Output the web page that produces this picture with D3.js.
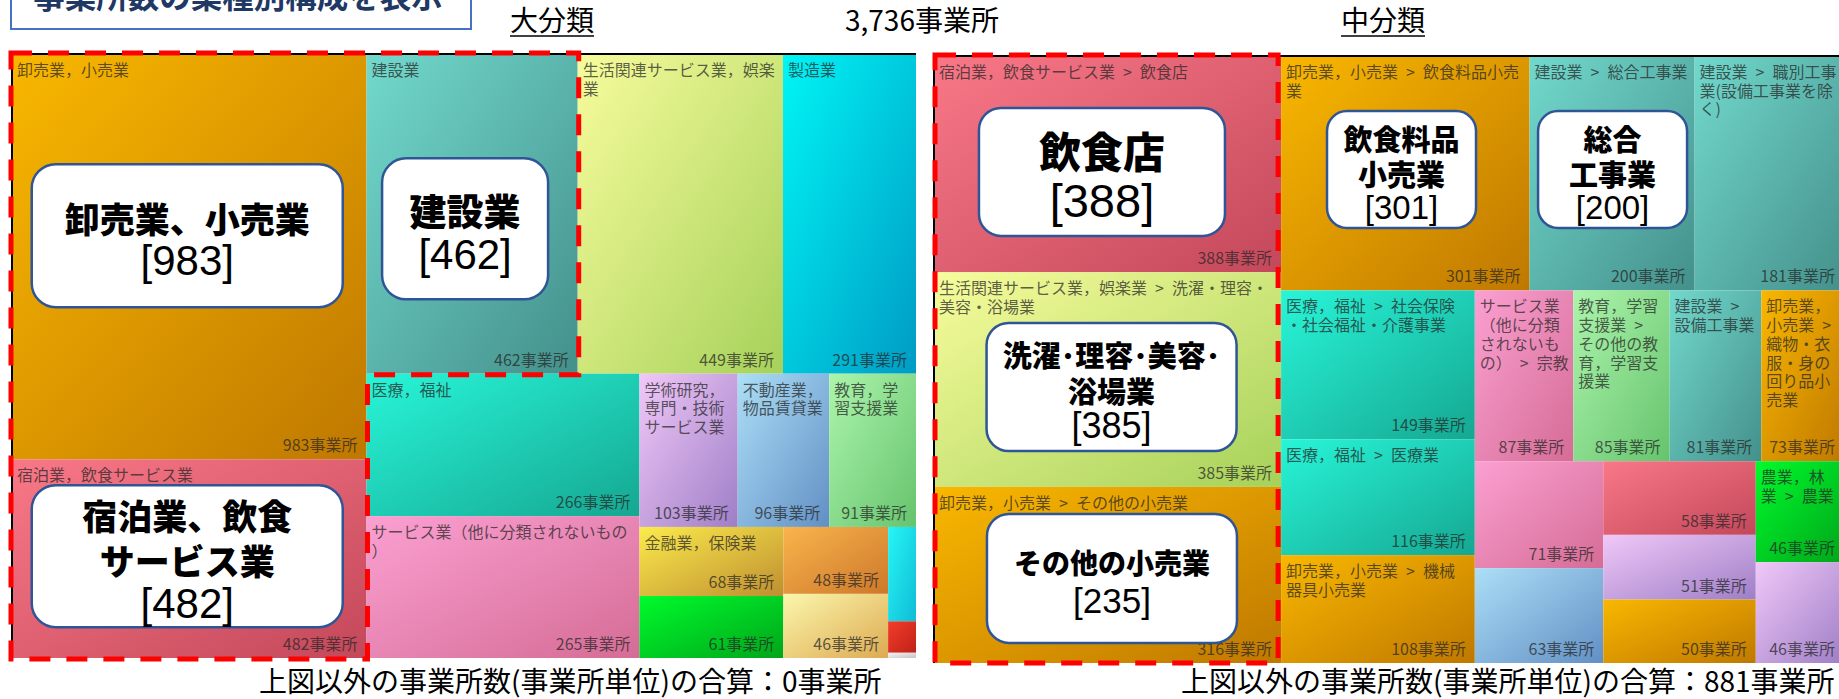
<!DOCTYPE html>
<html>
<head>
<meta charset="utf-8">
<script src="https://cdn.jsdelivr.net/npm/d3@7"></script>
<style>
  body { margin: 0; background: #fff; }
  svg { display: block; }
  text { font-family: "Noto Sans CJK JP", "Noto Sans", sans-serif; }
  .lbl, .val { font-size: 16px; fill: #262626; fill-opacity: 0.74; }
</style>
</head>
<body>
<div id="chart"></div>
<script>
var width = 1839, height = 699;

// 大分類
var majorNames = ["卸売業，小売業", "宿泊業，飲食サービス業", "建設業", "生活関連サービス業，娯楽業", "製造業",
  "医療，福祉", "サービス業（他に分類されないもの）", "学術研究，専門・技術サービス業", "不動産業，物品賃貸業",
  "教育，学習支援業", "金融業，保険業", "農業，林業", "運輸業，郵便業", "情報通信業", "複合サービス事業",
  "電気・ガス・熱供給・水道業", "鉱業，採石業，砂利採取業"];
var majorValues = [983, 482, 462, 449, 291, 266, 265, 103, 96, 91, 68, 61, 48, 46, 18, 6, 1];
var majorLabels = ["卸売業，小売業", "宿泊業，飲食サービス業", "建設業", "生活関連サービス業，娯楽\n業", "製造業",
  "医療，福祉", "サービス業（他に分類されないもの\n）", "学術研究，\n専門・技術\nサービス業", "不動産業，\n物品賃貸業",
  "教育，学\n習支援業", "金融業，保険業", "", "", "", "", "", ""];

// 中分類
var midGroups = ["宿泊業，飲食サービス業", "生活関連サービス業，娯楽業", "卸売業，小売業", "卸売業，小売業", "建設業",
  "建設業", "医療，福祉", "医療，福祉", "卸売業，小売業", "サービス業（他に分類されないもの）", "教育，学習支援業",
  "建設業", "卸売業，小売業", "サービス業（他に分類されないもの）", "不動産業，物品賃貸業", "宿泊業，飲食サービス業",
  "学術研究，専門・技術サービス業", "卸売業，小売業", "農業，林業", "学術研究，専門・技術サービス業"];
var midValues = [388, 385, 316, 301, 200, 181, 149, 116, 108, 87, 85, 81, 73, 71, 63, 58, 51, 50, 46, 46];
var midLabels = ["宿泊業，飲食サービス業 > 飲食店", "生活関連サービス業，娯楽業 > 洗濯・理容・\n美容・浴場業",
  "卸売業，小売業 > その他の小売業", "卸売業，小売業 > 飲食料品小売\n業", "建設業 > 総合工事業",
  "建設業 > 職別工事\n業(設備工事業を除\nく)", "医療，福祉 > 社会保険\n・社会福祉・介護事業", "医療，福祉 > 医療業",
  "卸売業，小売業 > 機械\n器具小売業", "サービス業\n（他に分類\nされないも\nの） > 宗教",
  "教育，学習\n支援業 >\nその他の教\n育，学習支\n援業", "建設業 >\n設備工事業",
  "卸売業，\n小売業 >\n織物・衣\n服・身の\n回り品小\n売業", "", "", "", "", "", "農業，林\n業 > 農業", ""];

var totalCount = 3736;
var otherCounts = [0, 881];

// callout texts
var majorCalloutCells = [0, 2, 1];
var majorCalloutNames = [["卸売業、小売業"], ["建設業"], ["宿泊業、飲食", "サービス業"]];
var majorCalloutCounts = [983, 462, 482];
var midCalloutCells = [0, 3, 4, 1, 2];
var midCalloutNames = [["飲食店"], ["飲食料品", "小売業"], ["総合", "工事業"], ["洗濯･理容･美容･", "浴場業"], ["その他の小売業"]];
var midCalloutCounts = [388, 301, 200, 385, 235];

// styles / layout
var palette = {
  "卸売業，小売業": ["#f9b700", "#bf7800"],
  "宿泊業，飲食サービス業": ["#f97888", "#c3485a"],
  "建設業": ["#72d9cd", "#44908b"],
  "生活関連サービス業，娯楽業": ["#f7fc9c", "#a6d15a"],
  "製造業": ["#00f6f6", "#009bc4"],
  "医療，福祉": ["#28f5d8", "#15a791"],
  "サービス業（他に分類されないもの）": ["#fba0d2", "#d56c95"],
  "学術研究，専門・技術サービス業": ["#f0c8f8", "#9e7ec6"],
  "不動産業，物品賃貸業": ["#acdff7", "#628fc4"],
  "教育，学習支援業": ["#acf5ac", "#66c36d"],
  "金融業，保険業": ["#fbeb4c", "#bf8f30"],
  "農業，林業": ["#00fb2c", "#00a51a"],
  "運輸業，郵便業": ["#f9b44c", "#cd782a"],
  "情報通信業": ["#fbf7ac", "#ddaa52"],
  "複合サービス事業": ["#26f6f6", "#10bcd6"],
  "電気・ガス・熱供給・水道業": ["#f43c2a", "#be2218"],
  "鉱業，採石業，砂利採取業": ["#f6f6f6", "#c4c4c4"]
};

var majorBoxLayout = [
  {w: 311, h: 143, dx: -2, dy: -21, r: 24, pitch: 43, nameSize: 35, numSize: 42},
  {w: 166, h: 141, dx: -7, dy: 15, r: 24, pitch: 44.5, nameSize: 37, numSize: 42},
  {w: 311, h: 142, dx: -2, dy: -2.5, r: 24, pitch: 44.5, nameSize: 35, numSize: 42}
];
var midBoxLayout = [
  {w: 246, h: 128, dx: -5.6, dy: 7.8, r: 22, pitch: 51, nameSize: 42, numSize: 47},
  {w: 149, h: 117, dx: -3.8, dy: -3.7, r: 20, pitch: 35, nameSize: 29, numSize: 33},
  {w: 149, h: 117, dx: 0.5, dy: -3.7, r: 20, pitch: 35, nameSize: 29, numSize: 33},
  {w: 250, h: 128, dx: 4, dy: 7.4, r: 22, pitch: 35.5, nameSize: 29, numSize: 36},
  {w: 250, h: 129, dx: 4.4, dy: 3.5, r: 22, pitch: 38, nameSize: 28, numSize: 35}
];

var svg = d3.select("#chart").append("svg")
  .attr("width", width)
  .attr("height", height);

var defs = svg.append("defs");
var gradId = {};
Object.keys(palette).forEach(function(k, i) {
  gradId[k] = "grad" + i;
  var lg = defs.append("linearGradient").attr("id", "grad" + i)
    .attr("x1", 0).attr("y1", 0).attr("x2", 1).attr("y2", 1);
  lg.append("stop").attr("offset", "0%").attr("stop-color", palette[k][0]);
  lg.append("stop").attr("offset", "100%").attr("stop-color", palette[k][1]);
});

function drawTreemap(labels, values, groups, x0, y0, w, h) {
  var items = values.map(function(v, i) {
    return {idx: i, value: v, label: labels[i], group: groups[i]};
  });
  var root = d3.hierarchy({children: items})
    .sum(function(d) { return d.value || 0; })
    .sort(function(a, b) { return b.value - a.value; });
  d3.treemap().size([w, h]).tile(d3.treemapSquarify)(root);

  var g = svg.append("g").attr("transform", "translate(" + x0 + "," + y0 + ")");
  var node = g.selectAll(".cell")
    .data(root.leaves())
    .enter().append("g")
      .attr("class", "cell")
      .attr("transform", function(d) { return "translate(" + d.x0 + "," + d.y0 + ")"; });

  node.append("rect")
    .attr("width", function(d) { return d.x1 - d.x0; })
    .attr("height", function(d) { return d.y1 - d.y0; })
    .attr("fill", function(d) { return "url(#" + gradId[d.data.group] + ")"; });

  node.each(function(d) {
    var el = d3.select(this);
    var cw = d.x1 - d.x0, ch = d.y1 - d.y0;
    if (d.data.label) {
      var t = el.append("text").attr("class", "lbl").attr("x", 5).attr("y", 22);
      d.data.label.split("\n").forEach(function(line, k) {
        // wider spaces around ">" like the original font
        t.append("tspan").attr("x", 5).attr("dy", k ? 18.7 : 0).text(line.replace(/ /g, "\u2002"));
      });
    }
    if (cw > 60) {
      el.append("text").attr("class", "val")
        .attr("x", cw - 9).attr("y", ch - 8)
        .attr("text-anchor", "end")
        .text(d.value + "事業所");
    }
  });
  return {x0: x0, y0: y0, w: w, h: h, nodes: root.leaves()};
}

var left = drawTreemap(majorLabels, majorValues, majorNames, 12, 54, 904, 604);
var right = drawTreemap(midLabels, midValues, midGroups, 934, 56, 910, 607);

function cellOf(tm, i) {
  return tm.nodes.filter(function(d) { return d.data.idx === i; })[0];
}

// frame lines
svg.append("path")
  .attr("d", "M" + left.x0 + "," + (left.y0 + left.h) + "V" + left.y0 + "H" + (left.x0 + left.w))
  .attr("fill", "none").attr("stroke", "#000").attr("stroke-width", 2);
svg.append("path")
  .attr("d", "M" + right.x0 + "," + (right.y0 + right.h) + "V" + right.y0 + "H" + (right.x0 + right.w))
  .attr("fill", "none").attr("stroke", "#000").attr("stroke-width", 2);

// red dashed outlines
var a = cellOf(left, 0), b = cellOf(left, 1), c = cellOf(left, 2);
var ox = left.x0, oy = left.y0;
var pts = [[a.x0 - 1, a.y0 - 1], [c.x1 + 1, c.y0 - 1], [c.x1 + 1, c.y1 + 1], [a.x1 + 1, c.y1 + 1],
  [b.x1 + 1, b.y1 + 1], [b.x0 - 1, b.y1 + 1]];
svg.append("path")
  .attr("d", "M" + pts.map(function(p) { return (p[0] + ox) + "," + (p[1] + oy); }).join("L") + "Z")
  .attr("fill", "none").attr("stroke", "#ff0000").attr("stroke-width", 5)
  .attr("stroke-dasharray", "21,16");

var r0 = cellOf(right, 0), r2 = cellOf(right, 2);
svg.append("rect")
  .attr("x", right.x0 + r0.x0 + 1).attr("y", right.y0 + r0.y0 - 1)
  .attr("width", r0.x1 - r0.x0 - 4).attr("height", r2.y1 - r0.y0 + 1)
  .attr("fill", "none").attr("stroke", "#ff0000").attr("stroke-width", 5)
  .attr("stroke-dasharray", "21,16");

// callouts
function drawCallouts(tm, cells, names, counts, layout) {
  cells.forEach(function(ci, k) {
    var n = cellOf(tm, ci);
    var L = layout[k];
    var cx = tm.x0 + (n.x0 + n.x1) / 2 + L.dx;
    var cy = tm.y0 + (n.y0 + n.y1) / 2 + L.dy;
    var g = svg.append("g").attr("class", "callout");
    g.append("rect")
      .attr("x", cx - L.w / 2).attr("y", cy - L.h / 2)
      .attr("width", L.w).attr("height", L.h)
      .attr("rx", L.r).attr("ry", L.r)
      .attr("fill", "#fff").attr("stroke", "#2f5597").attr("stroke-width", 2.5);
    var lines = names[k].concat(["[" + counts[k] + "]"]);
    var nl = lines.length;
    lines.forEach(function(s, j) {
      var isNum = j === nl - 1;
      g.append("text")
        .attr("x", cx)
        .attr("y", cy + 3 + (j - (nl - 1) / 2) * L.pitch)
        .attr("text-anchor", "middle")
        .attr("dominant-baseline", "central")
        .style("font-family", isNum ? "'Liberation Sans', Arial, sans-serif" : "'Noto Sans CJK JP', sans-serif")
        .style("font-weight", isNum ? 400 : 900)
        .style("font-size", (isNum ? L.numSize : L.nameSize) + "px")
        .attr("fill", "#000")
        .text(s);
    });
  });
}
drawCallouts(left, majorCalloutCells, majorCalloutNames, majorCalloutCounts, majorBoxLayout);
drawCallouts(right, midCalloutCells, midCalloutNames, midCalloutCounts, midBoxLayout);

// title box
svg.append("rect")
  .attr("x", 11).attr("y", -12).attr("width", 460).attr("height", 41)
  .attr("fill", "#fff").attr("stroke", "#4472c4").attr("stroke-width", 2);
svg.append("text")
  .attr("x", 238).attr("y", 8)
  .attr("text-anchor", "middle")
  .style("font-size", "31.5px").style("font-weight", 700)
  .attr("fill", "#1f3864")
  .text("事業所数の業種別構成を表示");

// headers
function header(x, s, underline) {
  var t = svg.append("text").attr("x", x).attr("y", 31)
    .style("font-size", "28px").attr("fill", "#000").text(s);
  if (underline) {
    var len = t.node().getComputedTextLength();
    svg.append("line").attr("x1", x).attr("x2", x + len)
      .attr("y1", 36).attr("y2", 36)
      .attr("stroke", "#000").attr("stroke-width", 1.5);
  }
}
header(510, "大分類", true);
header(845, d3.format(",")(totalCount) + "事業所", false);
header(1341, "中分類", true);

// footnotes
svg.append("text").attr("x", 259).attr("y", 692)
  .style("font-size", "28px").attr("fill", "#000")
  .text("上図以外の事業所数(事業所単位)の合算：" + otherCounts[0] + "事業所");
svg.append("text").attr("x", 1181).attr("y", 692)
  .style("font-size", "28px").attr("fill", "#000")
  .text("上図以外の事業所数(事業所単位)の合算：" + otherCounts[1] + "事業所");
</script>
</body>
</html>
